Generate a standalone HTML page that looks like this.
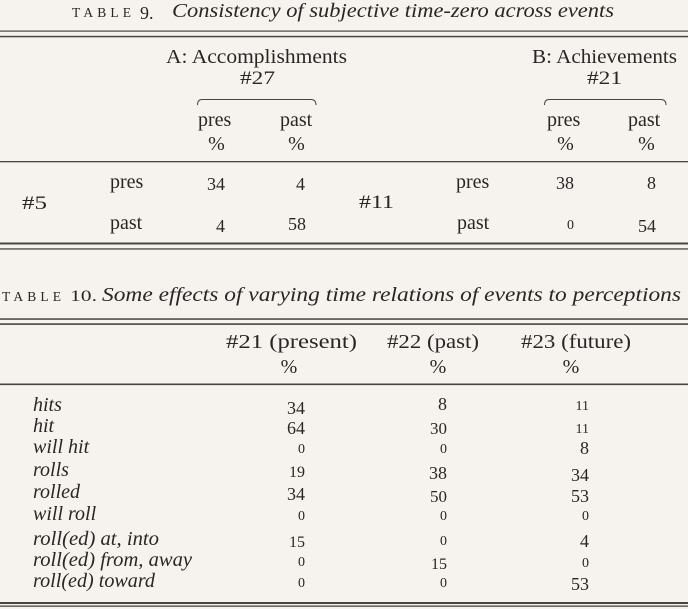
<!DOCTYPE html>
<html>
<head>
<meta charset="utf-8">
<style>
  html,body{margin:0;padding:0;background:#f6f2ee;}
  svg{display:block;}
  text{font-family:"Liberation Serif",serif;fill:#2b2525;}
  .it{font-style:italic;}
</style>
</head>
<body>
<svg width="688" height="609" viewBox="0 0 688 609" xmlns="http://www.w3.org/2000/svg">
  <rect x="0" y="0" width="688" height="609" fill="#f6f2ee"/>

  <!-- TABLE 9 title -->
  <text x="72" y="17" font-size="13.5" textLength="59" lengthAdjust="spacing">TABLE</text>
  <text x="140" y="19" font-size="18">9.</text>
  <text class="it" x="172" y="17" font-size="20" textLength="442" lengthAdjust="spacingAndGlyphs">Consistency of subjective time-zero across events</text>

  <!-- top double rule -->
  <rect x="0" y="30.5" width="688" height="1.2" fill="#4a4343"/>
  <rect x="0" y="35.8" width="688" height="1.5" fill="#4a4343"/>

  <!-- group headers -->
  <text x="166" y="63" font-size="20" textLength="181" lengthAdjust="spacingAndGlyphs">A: Accomplishments</text>
  <text x="240" y="84" font-size="19" textLength="35" lengthAdjust="spacingAndGlyphs">#27</text>
  <text x="532" y="63" font-size="20" textLength="145" lengthAdjust="spacingAndGlyphs">B: Achievements</text>
  <text x="587" y="84" font-size="19" textLength="35" lengthAdjust="spacingAndGlyphs">#21</text>

  <!-- braces -->
  <path d="M197.5,105 Q197.5,99.5 202,99.5 L311,99.5 Q316,99.5 316,105" fill="none" stroke="#4a4343" stroke-width="1"/>
  <path d="M544.5,105 Q544.5,99.5 549,99.5 L661,99.5 Q666,99.5 666,105" fill="none" stroke="#4a4343" stroke-width="1"/>

  <!-- sub headers -->
  <text x="198" y="126" font-size="20">pres</text>
  <text x="280" y="126" font-size="20">past</text>
  <text x="547" y="126" font-size="20">pres</text>
  <text x="628" y="126" font-size="20">past</text>
  <text x="216.5" y="150" font-size="20" text-anchor="middle">%</text>
  <text x="296.5" y="150" font-size="20" text-anchor="middle">%</text>
  <text x="565.5" y="150" font-size="20" text-anchor="middle">%</text>
  <text x="646.5" y="150" font-size="20" text-anchor="middle">%</text>

  <rect x="0" y="161" width="688" height="1.3" fill="#4a4343"/>

  <!-- body table 9 -->
  <text x="22" y="209" font-size="19" textLength="25" lengthAdjust="spacingAndGlyphs">#5</text>
  <text x="110" y="188" font-size="20">pres</text>
  <text x="110" y="229" font-size="20">past</text>
  <text x="225" y="190" font-size="18" text-anchor="end">34</text>
  <text x="305" y="190" font-size="18" text-anchor="end">4</text>
  <text x="225" y="232" font-size="18" text-anchor="end">4</text>
  <text x="306" y="230" font-size="18" text-anchor="end">58</text>

  <text x="359" y="208" font-size="19" textLength="35" lengthAdjust="spacingAndGlyphs">#11</text>
  <text x="456" y="188" font-size="20">pres</text>
  <text x="457" y="229" font-size="20">past</text>
  <text x="574" y="189" font-size="18" text-anchor="end">38</text>
  <text x="656" y="189" font-size="18" text-anchor="end">8</text>
  <text x="574" y="229" font-size="14" text-anchor="end">0</text>
  <text x="656" y="232" font-size="18" text-anchor="end">54</text>

  <!-- bottom double rule -->
  <rect x="0" y="242.5" width="688" height="2" fill="#4a4343"/>
  <rect x="0" y="248.3" width="688" height="1.3" fill="#4a4343"/>

  <!-- TABLE 10 title -->
  <text x="2" y="301" font-size="13.5" textLength="59" lengthAdjust="spacing">TABLE</text>
  <text x="70" y="301" font-size="16" textLength="27" lengthAdjust="spacingAndGlyphs">10.</text>
  <text class="it" x="102" y="301" font-size="20" textLength="579" lengthAdjust="spacingAndGlyphs">Some effects of varying time relations of events to perceptions</text>

  <rect x="0" y="318.3" width="688" height="1.5" fill="#4a4343"/>
  <rect x="0" y="323.3" width="688" height="1.6" fill="#4a4343"/>

  <!-- headers table 10 -->
  <text x="226" y="348" font-size="20" textLength="131" lengthAdjust="spacingAndGlyphs">#21 (present)</text>
  <text x="387" y="348" font-size="20" textLength="92" lengthAdjust="spacingAndGlyphs">#22 (past)</text>
  <text x="521" y="348" font-size="20" textLength="110" lengthAdjust="spacingAndGlyphs">#23 (future)</text>
  <text x="289" y="373" font-size="20" text-anchor="middle">%</text>
  <text x="438" y="373" font-size="20" text-anchor="middle">%</text>
  <text x="571" y="373" font-size="20" text-anchor="middle">%</text>

  <rect x="0" y="383.5" width="688" height="1.6" fill="#4a4343"/>

  <!-- row labels -->
  <text class="it" x="33" y="411" font-size="20">hits</text>
  <text class="it" x="33" y="432" font-size="20">hit</text>
  <text class="it" x="33" y="453" font-size="20">will hit</text>
  <text class="it" x="33" y="476" font-size="20">rolls</text>
  <text class="it" x="33" y="498" font-size="20">rolled</text>
  <text class="it" x="33" y="520" font-size="20">will roll</text>
  <text class="it" x="33" y="545" font-size="20" textLength="126" lengthAdjust="spacingAndGlyphs">roll(ed) at, into</text>
  <text class="it" x="33" y="566" font-size="20" textLength="159" lengthAdjust="spacingAndGlyphs">roll(ed) from, away</text>
  <text class="it" x="33" y="587" font-size="20" textLength="122" lengthAdjust="spacingAndGlyphs">roll(ed) toward</text>

  <!-- col 1 (right 305) -->
  <text x="305" y="414" font-size="18" text-anchor="end">34</text>
  <text x="305" y="434" font-size="18" text-anchor="end">64</text>
  <text x="305" y="453" font-size="14" text-anchor="end">0</text>
  <text x="305" y="477" font-size="16" text-anchor="end">19</text>
  <text x="305" y="500" font-size="18" text-anchor="end">34</text>
  <text x="305" y="520" font-size="14" text-anchor="end">0</text>
  <text x="305" y="547" font-size="16" text-anchor="end">15</text>
  <text x="305" y="566" font-size="14" text-anchor="end">0</text>
  <text x="305" y="587" font-size="14" text-anchor="end">0</text>

  <!-- col 2 (right 447) -->
  <text x="447" y="410" font-size="18" text-anchor="end">8</text>
  <text x="447" y="434" font-size="17" text-anchor="end">30</text>
  <text x="447" y="453" font-size="14" text-anchor="end">0</text>
  <text x="447" y="479" font-size="18" text-anchor="end">38</text>
  <text x="447" y="502" font-size="17" text-anchor="end">50</text>
  <text x="447" y="520" font-size="14" text-anchor="end">0</text>
  <text x="447" y="545" font-size="14" text-anchor="end">0</text>
  <text x="447" y="569" font-size="16" text-anchor="end">15</text>
  <text x="447" y="587" font-size="14" text-anchor="end">0</text>

  <!-- col 3 (right 589) -->
  <text x="589" y="410" font-size="14" text-anchor="end">11</text>
  <text x="589" y="433" font-size="14" text-anchor="end">11</text>
  <text x="589" y="454" font-size="18" text-anchor="end">8</text>
  <text x="589" y="481" font-size="18" text-anchor="end">34</text>
  <text x="589" y="502" font-size="18" text-anchor="end">53</text>
  <text x="589" y="520" font-size="14" text-anchor="end">0</text>
  <text x="589" y="547" font-size="18" text-anchor="end">4</text>
  <text x="589" y="567" font-size="14" text-anchor="end">0</text>
  <text x="589" y="590" font-size="18" text-anchor="end">53</text>

  <!-- bottom double rule -->
  <rect x="0" y="602" width="688" height="2" fill="#4a4343"/>
  <rect x="0" y="605.5" width="688" height="1.3" fill="#4a4343"/>
</svg>
</body>
</html>
